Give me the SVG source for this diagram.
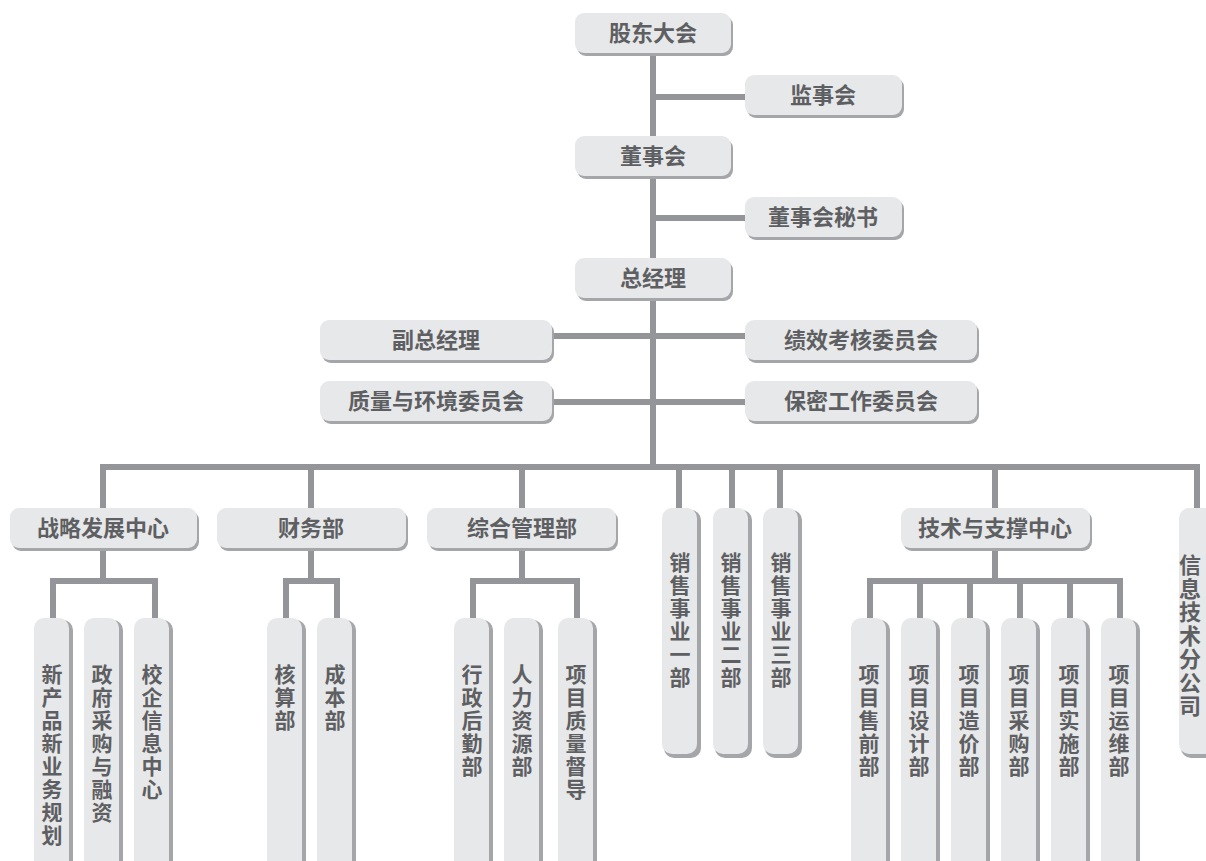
<svg xmlns="http://www.w3.org/2000/svg" width="1206" height="861" viewBox="0 0 1206 861">
<style>
.ln{stroke:#949598;stroke-width:6;fill:none;stroke-linejoin:miter}
.sh{fill:#a4a6a9}
.bx{fill:#e7e8e9}
.t{font-family:"Noto Sans CJK SC","Noto Sans CJK TC",sans-serif;font-weight:700;fill:#5e5f62;font-size:22px;text-anchor:middle}
.v{font-family:"Noto Sans CJK SC","Noto Sans CJK TC",sans-serif;font-weight:700;fill:#5e5f62;font-size:21px;writing-mode:vertical-rl;text-orientation:upright;letter-spacing:2px}
</style>
<rect width="1206" height="861" fill="#ffffff"/>
<g id="connectors" class="ln">
<path d="M653 50V467"/>
<path d="M653 97H748"/>
<path d="M653 218H748"/>
<path d="M550 336H748"/>
<path d="M550 402H748"/>
<path d="M103 510V467H1197V510"/>
<path d="M311 467V510M522 467V510M679 467V510M732 467V510M780 467V510M995 467V510"/>
<path d="M103 548V581M53 620V581H155V620"/>
<path d="M311 548V581M286 620V581H337V620"/>
<path d="M522 548V581M473 620V581H577V620"/>
<path d="M995 548V581M870 620V581H1120V620M920 581V620M970 581V620M1020 581V620M1070 581V620"/>
</g>
<g id="n1"><rect class="sh" x="577" y="16" width="156" height="40" rx="9"/><rect class="bx" x="575" y="13" width="156" height="40" rx="9"/><text class="t" x="653" y="41">股东大会</text></g>
<g id="n2"><rect class="sh" x="747" y="78" width="157" height="40" rx="9"/><rect class="bx" x="745" y="75" width="157" height="40" rx="9"/><text class="t" x="823" y="103">监事会</text></g>
<g id="n3"><rect class="sh" x="577" y="139" width="156" height="40" rx="9"/><rect class="bx" x="575" y="136" width="156" height="40" rx="9"/><text class="t" x="653" y="164">董事会</text></g>
<g id="n4"><rect class="sh" x="747" y="200" width="157" height="40" rx="9"/><rect class="bx" x="745" y="197" width="157" height="40" rx="9"/><text class="t" x="823" y="225">董事会秘书</text></g>
<g id="n5"><rect class="sh" x="577" y="261" width="156" height="40" rx="9"/><rect class="bx" x="575" y="258" width="156" height="40" rx="9"/><text class="t" x="653" y="286">总经理</text></g>
<g id="n6"><rect class="sh" x="322" y="323" width="232" height="40" rx="9"/><rect class="bx" x="320" y="320" width="232" height="40" rx="9"/><text class="t" x="436" y="348">副总经理</text></g>
<g id="n7"><rect class="sh" x="747" y="323" width="232" height="40" rx="9"/><rect class="bx" x="745" y="320" width="232" height="40" rx="9"/><text class="t" x="861" y="348">绩效考核委员会</text></g>
<g id="n8"><rect class="sh" x="322" y="384" width="232" height="40" rx="9"/><rect class="bx" x="320" y="381" width="232" height="40" rx="9"/><text class="t" x="436" y="409">质量与环境委员会</text></g>
<g id="n9"><rect class="sh" x="747" y="384" width="232" height="40" rx="9"/><rect class="bx" x="745" y="381" width="232" height="40" rx="9"/><text class="t" x="861" y="409">保密工作委员会</text></g>
<g id="n10"><rect class="sh" x="12" y="511" width="187" height="40" rx="9"/><rect class="bx" x="10" y="508" width="187" height="40" rx="9"/><text class="t" x="103" y="536">战略发展中心</text></g>
<g id="n11"><rect class="sh" x="219" y="511" width="189" height="40" rx="9"/><rect class="bx" x="217" y="508" width="189" height="40" rx="9"/><text class="t" x="311" y="536">财务部</text></g>
<g id="n12"><rect class="sh" x="429" y="511" width="189" height="40" rx="9"/><rect class="bx" x="427" y="508" width="189" height="40" rx="9"/><text class="t" x="522" y="536">综合管理部</text></g>
<g id="n13"><rect class="sh" x="903" y="511" width="189" height="40" rx="9"/><rect class="bx" x="901" y="508" width="189" height="40" rx="9"/><text class="t" x="995" y="536">技术与支撑中心</text></g>
<g id="s1"><rect class="sh" x="664" y="510" width="37" height="248" rx="10"/><rect class="bx" x="662" y="508" width="35" height="246" rx="10"/><text class="v" x="680" y="552">销售事业一部</text></g>
<g id="s2"><rect class="sh" x="715" y="510" width="37" height="248" rx="10"/><rect class="bx" x="713" y="508" width="35" height="246" rx="10"/><text class="v" x="731" y="552">销售事业二部</text></g>
<g id="s3"><rect class="sh" x="765" y="510" width="37" height="248" rx="10"/><rect class="bx" x="763" y="508" width="35" height="246" rx="10"/><text class="v" x="781" y="552">销售事业三部</text></g>
<g id="s4"><rect class="sh" x="1181" y="510" width="37" height="248" rx="10"/><rect class="bx" x="1179" y="508" width="35" height="246" rx="10"/><text class="v" x="1190" y="554" style="font-size:22px;letter-spacing:1.5px">信息技术分公司</text></g>
<g id="c1"><rect class="sh" x="36" y="620" width="37" height="260" rx="10"/><rect class="bx" x="34" y="618" width="35" height="260" rx="10"/><text class="v" x="52" y="664">新产品新业务规划</text></g>
<g id="c2"><rect class="sh" x="86" y="620" width="37" height="260" rx="10"/><rect class="bx" x="84" y="618" width="35" height="260" rx="10"/><text class="v" x="102" y="664">政府采购与融资</text></g>
<g id="c3"><rect class="sh" x="136" y="620" width="37" height="260" rx="10"/><rect class="bx" x="134" y="618" width="35" height="260" rx="10"/><text class="v" x="152" y="664">校企信息中心</text></g>
<g id="c4"><rect class="sh" x="269" y="620" width="37" height="260" rx="10"/><rect class="bx" x="267" y="618" width="35" height="260" rx="10"/><text class="v" x="285" y="664">核算部</text></g>
<g id="c5"><rect class="sh" x="319" y="620" width="37" height="260" rx="10"/><rect class="bx" x="317" y="618" width="35" height="260" rx="10"/><text class="v" x="335" y="664">成本部</text></g>
<g id="c6"><rect class="sh" x="456" y="620" width="37" height="260" rx="10"/><rect class="bx" x="454" y="618" width="35" height="260" rx="10"/><text class="v" x="472" y="664">行政后勤部</text></g>
<g id="c7"><rect class="sh" x="506" y="620" width="37" height="260" rx="10"/><rect class="bx" x="504" y="618" width="35" height="260" rx="10"/><text class="v" x="522" y="664">人力资源部</text></g>
<g id="c8"><rect class="sh" x="560" y="620" width="37" height="260" rx="10"/><rect class="bx" x="558" y="618" width="35" height="260" rx="10"/><text class="v" x="576" y="664">项目质量督导</text></g>
<g id="c9"><rect class="sh" x="853" y="620" width="37" height="260" rx="10"/><rect class="bx" x="851" y="618" width="35" height="260" rx="10"/><text class="v" x="869" y="664">项目售前部</text></g>
<g id="c10"><rect class="sh" x="903" y="620" width="37" height="260" rx="10"/><rect class="bx" x="901" y="618" width="35" height="260" rx="10"/><text class="v" x="919" y="664">项目设计部</text></g>
<g id="c11"><rect class="sh" x="953" y="620" width="37" height="260" rx="10"/><rect class="bx" x="951" y="618" width="35" height="260" rx="10"/><text class="v" x="969" y="664">项目造价部</text></g>
<g id="c12"><rect class="sh" x="1003" y="620" width="37" height="260" rx="10"/><rect class="bx" x="1001" y="618" width="35" height="260" rx="10"/><text class="v" x="1019" y="664">项目采购部</text></g>
<g id="c13"><rect class="sh" x="1053" y="620" width="37" height="260" rx="10"/><rect class="bx" x="1051" y="618" width="35" height="260" rx="10"/><text class="v" x="1069" y="664">项目实施部</text></g>
<g id="c14"><rect class="sh" x="1103" y="620" width="37" height="260" rx="10"/><rect class="bx" x="1101" y="618" width="35" height="260" rx="10"/><text class="v" x="1119" y="664">项目运维部</text></g>
</svg>
